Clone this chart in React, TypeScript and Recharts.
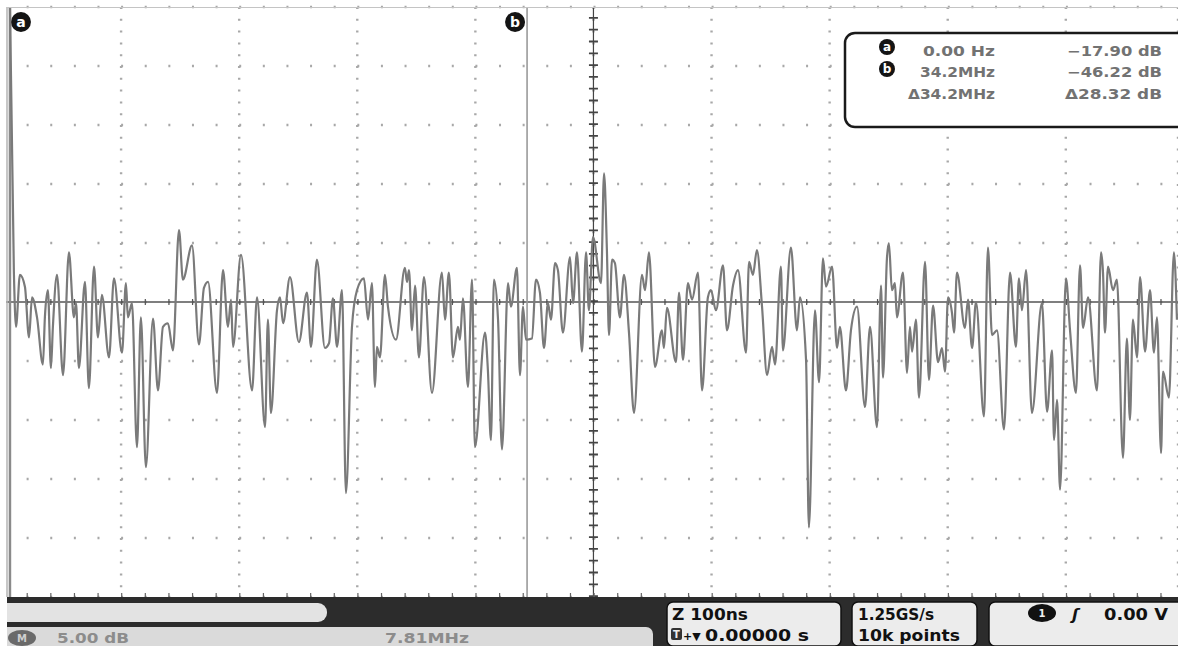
import React from 'react';
import { LineChart, Line, XAxis, YAxis, CartesianGrid, ReferenceLine } from 'recharts';

// Frequency (MHz) and level (dB) of the FFT trace
const freqMHz = [
  0, 0.26, 0.40, 0.66, 0.99, 1.26, 1.46, 1.79, 2.18, 2.31, 2.51, 2.71, 2.84, 3.11, 3.51, 3.90, 4.23, 4.37, 4.56, 4.96,
  5.22, 5.56, 5.82, 6.08, 6.55, 6.88, 7.41, 7.67, 7.80, 8.07, 8.40, 8.66, 8.99, 9.46, 9.79, 10.12, 10.45, 10.78, 11.18, 11.44,
  12.04, 12.50, 12.83, 13.10, 13.69, 14.09, 14.42, 14.62, 14.75, 15.28, 16.01, 16.34, 16.87, 17.06, 17.26, 17.66, 17.86, 18.06, 18.52, 19.11,
  19.64, 19.91, 20.30, 20.83, 21.10, 21.36, 21.63, 21.96, 22.22, 22.62, 22.95, 23.41, 23.68, 23.94, 24.14, 24.27, 24.47, 24.80, 25.00, 25.53,
  26.12, 26.26, 26.39, 26.59, 26.79, 27.05, 27.38, 27.91, 28.57, 28.77, 29.03, 29.30, 29.63, 29.76, 29.96, 30.29, 30.56, 30.75, 31.42, 31.61,
  31.81, 32.01, 32.28, 32.54, 32.94, 33.13, 33.53, 33.73, 33.93, 34.13, 34.52, 34.79, 35.05, 35.32, 35.58, 35.78, 36.05, 36.24, 36.57, 37.04,
  37.24, 37.50, 37.83, 38.10, 38.29, 38.56, 39.09, 39.29, 39.48, 39.62, 39.82, 40.01, 40.34, 40.61, 40.94, 41.27, 41.80, 42.00, 42.26, 42.66,
  43.12, 43.25, 43.45, 44.05, 44.25, 44.51, 44.84, 45.11, 45.50, 45.77, 46.16, 46.36, 46.69, 47.16, 47.42, 47.82, 48.15, 48.68, 48.88, 49.14,
  49.40, 49.74, 50.07, 50.40, 50.60, 50.99, 51.12, 51.65, 52.05, 52.25, 52.65, 52.84, 53.24, 53.51, 53.77, 53.97, 54.37, 54.70, 54.89, 55.29,
  55.62, 56.02, 56.55, 56.88, 57.34, 57.61, 57.74, 58.00, 58.13, 58.33, 58.53, 58.66, 59.06, 59.33, 59.52, 59.66, 59.92, 60.12, 60.52, 60.78,
  61.05, 61.38, 61.64, 61.84, 62.04, 62.30, 62.44, 62.63, 63.16, 63.36, 63.63, 63.89, 64.42, 64.68, 64.95, 65.28, 65.74, 66.14, 66.53, 66.73,
  66.93, 67.20, 67.59, 68.25, 68.59, 68.92, 69.05, 69.25, 69.45, 69.84, 70.11, 70.50, 70.77, 70.97, 71.30, 71.89, 72.16, 72.29, 72.42, 72.62,
  72.95, 73.21, 73.61, 73.87, 74.07, 74.27, 74.54, 74.74, 75.07, 75.40, 75.66, 75.86, 76.13, 76.26, 76.65, 76.98, 77.18,
];
const levelDb = [
  -17.9, -40.5, -45.1, -40.7, -41.7, -46.0, -42.6, -44.3, -48.3, -44.3, -42.0, -48.6, -45.1, -40.7, -49.2, -38.8, -44.3, -43.1, -48.6, -41.3,
  -50.3, -40.0, -46.0, -42.4, -47.7, -41.0, -47.3, -41.4, -44.3, -43.1, -55.3, -44.3, -57.0, -44.4, -50.5, -45.1, -44.8, -47.1, -36.9, -41.1,
  -38.2, -46.6, -41.8, -41.3, -50.7, -40.3, -45.1, -42.8, -46.8, -39.0, -50.5, -42.6, -53.6, -44.5, -52.4, -43.7, -42.6, -44.8, -40.9, -46.4,
  -42.2, -46.8, -39.4, -46.9, -46.5, -42.7, -46.8, -42.0, -59.2, -45.1, -42.0, -41.0, -44.5, -41.4, -50.2, -46.8, -47.7, -40.7, -43.4, -46.2,
  -40.1, -41.3, -40.3, -45.4, -41.6, -47.7, -40.9, -50.7, -40.5, -44.5, -40.5, -47.7, -45.1, -46.2, -42.7, -50.2, -41.1, -55.3, -45.6, -48.8,
  -54.7, -41.1, -44.5, -55.5, -41.4, -43.4, -40.1, -49.2, -43.4, -46.2, -46.1, -41.1, -42.2, -46.9, -43.1, -44.5, -39.7, -40.3, -45.6, -39.2,
  -43.1, -38.8, -47.2, -38.8, -43.7, -37.5, -41.4, -32.1, -38.6, -45.8, -39.4, -39.7, -44.3, -40.7, -45.6, -52.4, -40.7, -42.0, -38.8, -48.5,
  -45.4, -46.9, -43.5, -48.1, -42.2, -47.9, -41.4, -42.8, -40.5, -50.5, -42.6, -42.0, -43.7, -39.9, -45.4, -41.6, -40.3, -47.3, -39.6, -40.7,
  -38.6, -43.4, -49.2, -46.8, -48.3, -40.0, -47.1, -38.4, -45.4, -42.6, -47.9, -62.1, -43.7, -49.8, -39.3, -41.7, -40.0, -46.9, -45.1, -50.5,
  -45.4, -43.4, -51.9, -45.1, -53.6, -41.6, -49.4, -39.3, -38.0, -42.0, -41.4, -44.3, -40.5, -49.0, -45.1, -47.2, -44.5, -51.1, -39.6, -49.6,
  -43.3, -48.1, -46.9, -48.9, -42.6, -43.9, -45.6, -40.5, -45.2, -42.8, -46.9, -43.0, -52.7, -38.4, -45.8, -45.4, -53.8, -40.5, -46.8, -41.0,
  -43.7, -40.3, -52.4, -43.1, -52.3, -47.1, -54.7, -51.3, -58.9, -41.0, -45.4, -50.7, -39.9, -45.2, -42.6, -50.5, -38.8, -40.5, -45.6, -40.0,
  -42.0, -41.1, -56.2, -46.1, -53.0, -44.5, -47.7, -40.9, -47.2, -42.0, -47.3, -44.3, -55.8, -48.9, -51.1, -38.8, -44.5,
];

// Graticule: 7.81 MHz per division, 5 dB per division
const gridMHz = [-0.46, 7.35, 15.16, 22.97, 30.78, 38.59, 46.4, 54.21, 62.02, 69.83];
const gridDb = [-68, -63, -58, -53, -48, -43, -38, -33, -28, -23, -18];
const xDomain = [-0.46, 77.25];
const yDomain = [-68, -18];
const centerMHz = 38.59;
const centerDb = -43;

// Cursors
const cursorLetters = ['a', 'b'];
const cursorMHz = [0, 34.2];
const readoutFreq = ['0.00 Hz', '34.2MHz', '\u039434.2MHz'];
const readoutLevel = ['\u221217.90 dB', '\u221246.22 dB', '\u039428.32 dB'];

// Status bar texts
const scaleText = '5.00 dB';
const spanText = '7.81MHz';
const zoomText = 'Z 100ns';
const posText = '0.00000 s';
const rateText = '1.25GS/s';
const pointsText = '10k points';
const trigText = '0.00 V';

const data = freqMHz.map((f, i) => ({ f, db: levelDb[i] }));

const CursorTag = (props: any) => {
  const { viewBox, letter, dx } = props;
  if (!viewBox) return null;
  const cx = viewBox.x + dx;
  const cy = viewBox.y + 15;
  return (
    <g>
      <circle cx={cx} cy={cy} r={10} fill="#141414" />
      <text x={cx} y={cy + 4.5} textAnchor="middle" fontSize={14} fontWeight={700} fill="#fff" fontFamily="DejaVu Sans">
        {letter}
      </text>
    </g>
  );
};

const font = 'DejaVu Sans';

export default function App() {
  return (
    <div style={{ position: 'absolute', left: 0, top: 0, width: 1178, height: 646, overflow: 'hidden', background: '#fff' }}>
      <LineChart width={1178} height={646} data={data} margin={{ top: 7, right: 0, left: 3, bottom: 49 }}>
        <XAxis type="number" dataKey="f" domain={xDomain} ticks={gridMHz} hide allowDataOverflow />
        <YAxis type="number" domain={yDomain} ticks={gridDb} hide allowDataOverflow />
        <CartesianGrid horizontal={false} stroke="#a8a8a8" strokeWidth={2.4} strokeDasharray="2 9.8" />
        <CartesianGrid vertical={false} stroke="#a8a8a8" strokeWidth={2.4} strokeDasharray="2 21.62" />
        <ReferenceLine y={centerDb} stroke="#555" strokeWidth={1.6} />
        <ReferenceLine y={centerDb} stroke="#555" strokeWidth={6} strokeDasharray="1.2 22.42" />
        <ReferenceLine x={centerMHz} stroke="#444" strokeWidth={1.2} />
        <ReferenceLine x={centerMHz} stroke="#444" strokeWidth={9} strokeDasharray="1.8 10" />
        <ReferenceLine y={yDomain[0]} stroke="#666" strokeWidth={8} strokeDasharray="1.2 22.42" />
        <ReferenceLine
          x={cursorMHz[0]}
          stroke="#8a8a8a"
          strokeWidth={2.5}
          label={<CursorTag letter={cursorLetters[0]} dx={11} />}
        />
        <ReferenceLine
          x={cursorMHz[1]}
          stroke="#9a9a9a"
          strokeWidth={1.6}
          label={<CursorTag letter={cursorLetters[1]} dx={-12} />}
        />
        <Line
          type="monotoneX"
          dataKey="db"
          stroke="#7a7a7a"
          strokeWidth={2.2}
          dot={false}
          isAnimationActive={false}
        />
      </LineChart>

      <svg width={1178} height={646} style={{ position: 'absolute', left: 0, top: 0, pointerEvents: 'none' }}>
        {/* screen borders */}
        <rect x={0} y={0} width={6} height={646} fill="#fff" />
        <line x1={7} y1={7} x2={7} y2={597} stroke="#b5b5b5" strokeWidth={1.5} />
        <line x1={7} y1={7.5} x2={1178} y2={7.5} stroke="#c4c4c4" strokeWidth={1.2} />

        {/* cursor readout */}
        <rect x={845} y={33} width={350} height={94} rx={10} fill="#fff" stroke="#1a1a1a" strokeWidth={2.5} />
        {[0, 1].map((i) => (
          <g key={i}>
            <circle cx={887} cy={47 + i * 22} r={8} fill="#141414" />
            <text x={887} y={51 + i * 22} textAnchor="middle" fontSize={12} fontWeight={700} fill="#fff" fontFamily={font}>
              {cursorLetters[i]}
            </text>
          </g>
        ))}
        {readoutFreq.map((t, i) => (
          <text key={'f' + i} x={995} y={[56, 77, 99][i]} textAnchor="end" fontSize={13.5} fontWeight={600} fill="#727272" fontFamily={font}
            textLength={[72, 75, 87][i]} lengthAdjust="spacingAndGlyphs">
            {t}
          </text>
        ))}
        {readoutLevel.map((t, i) => (
          <text key={'l' + i} x={1162} y={[56, 77, 99][i]} textAnchor="end" fontSize={13.5} fontWeight={600} fill="#727272" fontFamily={font}
            textLength={[95, 95, 97][i]} lengthAdjust="spacingAndGlyphs">
            {t}
          </text>
        ))}

        {/* status bar */}
        <rect x={7} y={597} width={1171} height={49} fill="#2c2c2c" />
        <rect x={7} y={603} width={320} height={19} rx={9} fill="#e3e3e3" />
        <rect x={7} y={603} width={20} height={19} fill="#e3e3e3" />
        <rect x={7} y={627} width={646} height={30} rx={7} fill="#dadada" />
        <rect x={7} y={627} width={20} height={30} fill="#dadada" />
        <ellipse cx={22} cy={638} rx={14} ry={8} fill="#6a6a6a" />
        <text x={22} y={642} textAnchor="middle" fontSize={10} fontWeight={700} fill="#cfcfcf" fontFamily={font}>M</text>
        <text x={57} y={643} fontSize={14} fontWeight={700} fill="#8c8c8c" fontFamily={font} textLength={72} lengthAdjust="spacingAndGlyphs">
          {scaleText}
        </text>
        <text x={385} y={643} fontSize={14} fontWeight={700} fill="#8c8c8c" fontFamily={font} textLength={84} lengthAdjust="spacingAndGlyphs">
          {spanText}
        </text>

        <rect x={667} y={602} width={174} height={44} rx={6} fill="#ececec" stroke="#111" strokeWidth={1.5} />
        <text x={672} y={620} fontSize={15} fontWeight={700} fill="#111" fontFamily={font} textLength={76} lengthAdjust="spacingAndGlyphs">
          {zoomText}
        </text>
        <rect x={671} y={628} width={11} height={12} rx={2} fill="#333" />
        <text x={676.5} y={638} textAnchor="middle" fontSize={10} fontWeight={700} fill="#eee" fontFamily={font}>T</text>
        <text x={683} y={640} fontSize={11} fontWeight={700} fill="#111" fontFamily={font}>{'+\u25BC'}</text>
        <text x={705} y={641} fontSize={15} fontWeight={700} fill="#111" fontFamily={font} textLength={104} lengthAdjust="spacingAndGlyphs">
          {posText}
        </text>

        <rect x={852} y={602} width={125} height={44} rx={6} fill="#ececec" stroke="#111" strokeWidth={1.5} />
        <text x={858} y={620} fontSize={15} fontWeight={700} fill="#111" fontFamily={font} textLength={76} lengthAdjust="spacingAndGlyphs">
          {rateText}
        </text>
        <text x={858} y={641} fontSize={15} fontWeight={700} fill="#111" fontFamily={font} textLength={102} lengthAdjust="spacingAndGlyphs">
          {pointsText}
        </text>

        <rect x={989} y={602} width={210} height={44} rx={6} fill="#ececec" stroke="#111" strokeWidth={1.5} />
        <ellipse cx={1042} cy={613} rx={14} ry={9} fill="#111" />
        <text x={1042} y={617} textAnchor="middle" fontSize={10} fontWeight={700} fill="#eee" fontFamily={font}>1</text>
        <text x={1072} y={620} fontSize={16} fontWeight={700} fontStyle="italic" fill="#111" fontFamily={font}>{'\u0283'}</text>
        <text x={1104} y={620} fontSize={15} fontWeight={700} fill="#111" fontFamily={font} textLength={64} lengthAdjust="spacingAndGlyphs">
          {trigText}
        </text>
      </svg>
    </div>
  );
}
